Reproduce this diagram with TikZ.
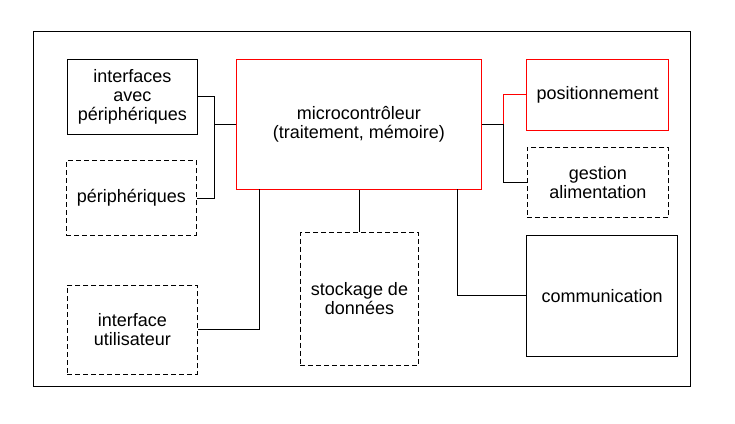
\documentclass[tikz,border=0pt]{standalone}
\usepackage{fontspec}
\setmainfont{Liberation Sans}
\usepackage{tikz}

\begin{document}
\begin{tikzpicture}[x=1pt, y=-1pt,
		bloc/.style={draw, line width=0.9pt, align=center, inner sep=0pt,
			font=\fontsize{18}{19}\selectfont},
		option/.style={bloc, dash pattern=on 5pt off 3pt},
		cle/.style={bloc, draw=red},
		lien/.style={line width=0.9pt}]
			\useasboundingbox (0,0) rectangle (735,423);
			\draw[line width=0.9pt] (33.5,31) rectangle (690.5,386);

			\node[bloc, minimum width=130pt, minimum height=74.7pt] (iface) at (132.3,96.7) {interfaces\\avec\\périphériques};
			\node[option, minimum width=130pt, minimum height=74.6pt] (periph) at (131.3,198) {périphériques};
			\node[option, minimum width=130pt, minimum height=89pt] (ui) at (132.3,329.8) {interface\\utilisateur};
			\node[cle, minimum width=245pt, minimum height=129.7pt] (micro) at (358.8,124.2) {microcontrôleur\\(traitement, mémoire)};
			\node[option, minimum width=118.4pt, minimum height=133pt] (stock) at (359.5,298.8) {stockage de\\données};
			\node[cle, minimum width=142pt, minimum height=70.7pt] (pos) at (597.7,94.7) {positionnement};
			\node[option, minimum width=141.7pt, minimum height=70pt] (gest) at (597.8,182.7) {gestion\\alimentation};
			\node[bloc, minimum width=151pt, minimum height=120.7pt] (comm) at (602.2,295.7) {communication};

			\coordinate (jl) at (214.5,124.2);
			\coordinate (jr) at (503.3,124.2);
			\coordinate (mu) at (259.3,189);
			\coordinate (mc) at (457.7,189);

			\draw[lien] (iface.east) -| (jl) |- (periph.east);
			\draw[lien] (jl) -- (micro.west);
			\draw[lien] (ui.east) -| (mu);
			\draw[lien] (stock.north) -- (stock.north |- micro.south);
			\draw[lien] (mc) |- (comm.west);
			\draw[lien] (micro.east) -- (jr);
			\draw[lien, red] (jr) |- (pos.west);
			\draw[lien] (jr) |- (gest.west);
		\end{tikzpicture}
\end{document}
